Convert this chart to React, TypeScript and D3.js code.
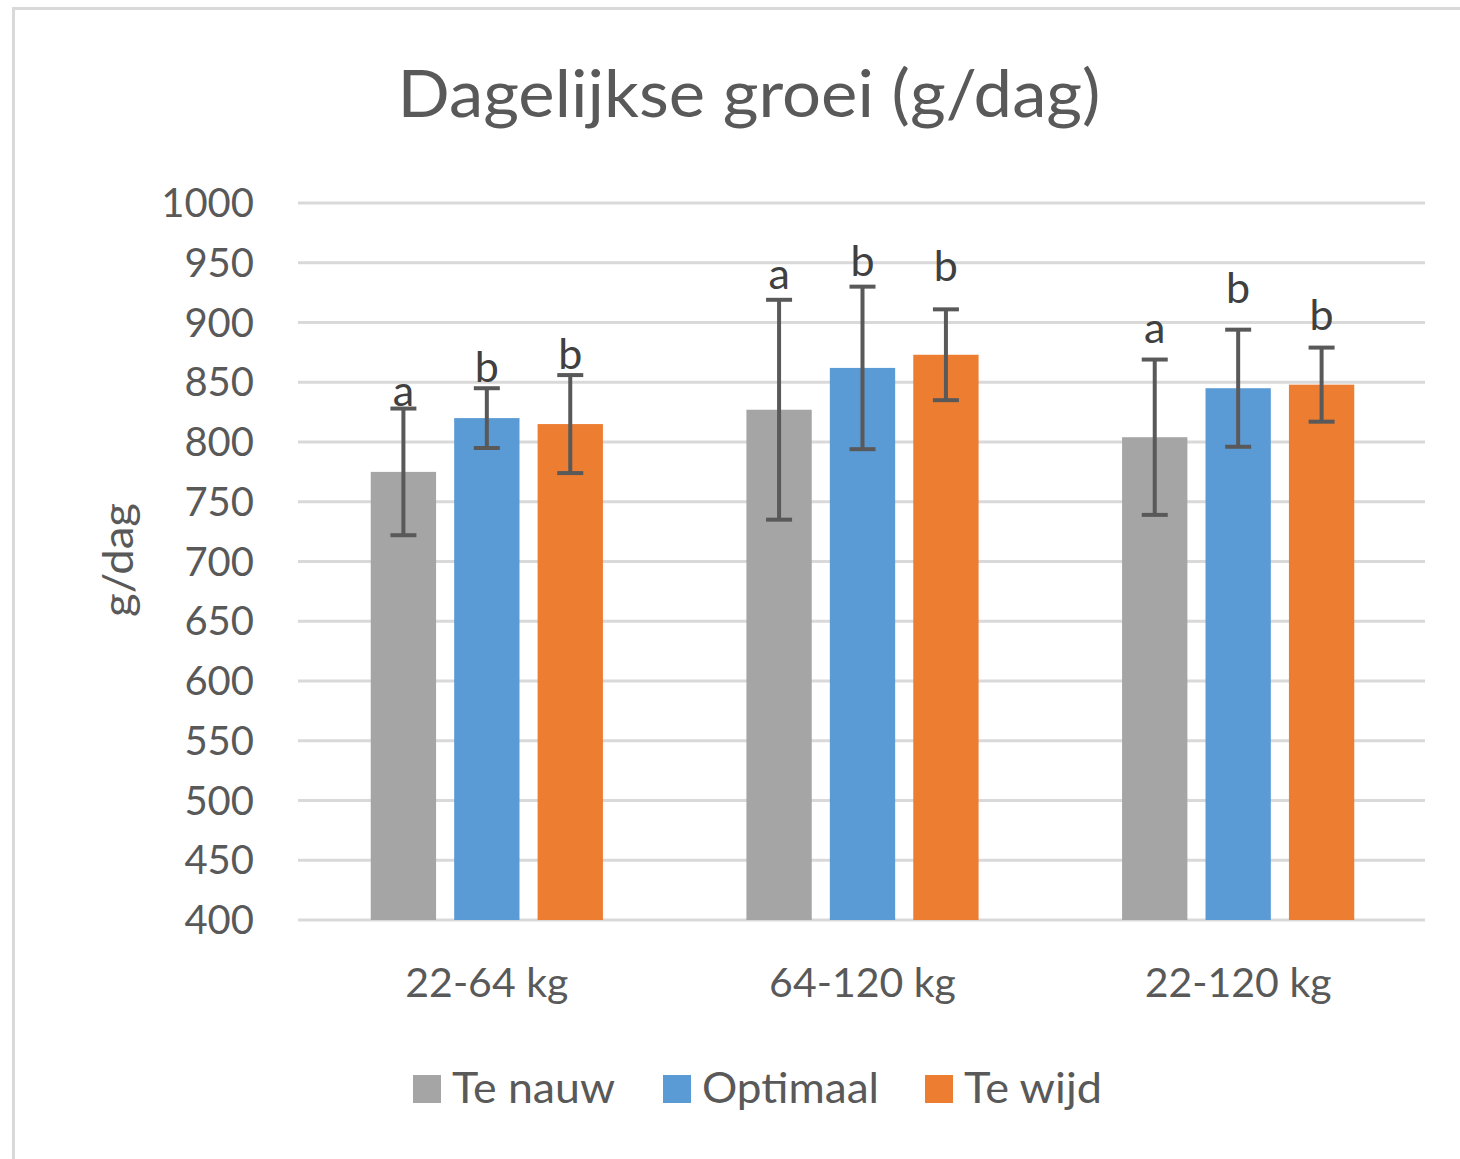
import React, { useEffect, useRef } from "react";
import * as d3 from "d3";

const groups = ["22-64 kg", "64-120 kg", "22-120 kg"];
const seriesNames = ["Te nauw", "Optimaal", "Te wijd"];
const seriesColors = ["#A5A5A5", "#5B9BD5", "#ED7D31"];

const teNauw = [775, 827, 804];
const optimaal = [820, 862, 845];
const teWijd = [815, 873, 848];

const errNauw = [53, 92, 65];
const errOptimaal = [25, 68, 49];
const errWijd = [41, 38, 31];

// significance letters and the value at which their baseline sits
const lettersNauw = ["a", "a", "a"];
const lettersOptimaal = ["b", "b", "b"];
const lettersWijd = ["b", "b", "b"];
const letterAtNauw = [830, 928, 883];
const letterAtOptimaal = [850, 939, 916];
const letterAtWijd = [861, 935, 894];

const yTicks = [400, 450, 500, 550, 600, 650, 700, 750, 800, 850, 900, 950, 1000];

const FONT = "Lato, 'Open Sans', sans-serif";

function App() {
  const ref = useRef<SVGSVGElement>(null);

  useEffect(() => {
    const svg = d3.select(ref.current);
    svg.selectAll("*").remove();

    const width = 1460;
    const height = 1159;
    const margin = { left: 298, right: 35, top: 203, bottom: 239 };

    // chart frame (cut off at right and bottom)
    svg
      .append("path")
      .attr("d", `M13.5,${height + 5}V8.5H${width + 5}`)
      .attr("fill", "none")
      .attr("stroke", "#d9d9d9")
      .attr("stroke-width", 3);

    const series = [
      { name: seriesNames[0], values: teNauw, err: errNauw, letters: lettersNauw, letterAt: letterAtNauw },
      { name: seriesNames[1], values: optimaal, err: errOptimaal, letters: lettersOptimaal, letterAt: letterAtOptimaal },
      { name: seriesNames[2], values: teWijd, err: errWijd, letters: lettersWijd, letterAt: letterAtWijd },
    ];
    const color = d3.scaleOrdinal<string, string>().domain(seriesNames).range(seriesColors);

    const x0 = d3
      .scaleBand()
      .domain(groups)
      .range([margin.left + 1, width - margin.right + 1]);
    const x1 = d3
      .scaleBand()
      .domain(seriesNames)
      .range([0, x0.bandwidth()])
      .paddingInner(0.217)
      .paddingOuter(0.86);
    const y = d3
      .scaleLinear()
      .domain([400, 1000])
      .range([height - margin.bottom, margin.top]);

    // title
    svg
      .append("text")
      .attr("x", 749)
      .attr("y", 117)
      .attr("text-anchor", "middle")
      .attr("font-family", FONT)
      .attr("font-size", "65px")
      .attr("textLength", 703)
      .attr("lengthAdjust", "spacingAndGlyphs")
      .attr("fill", "#595959")
      .text("Dagelijkse groei (g/dag)");

    // gridlines
    svg
      .append("g")
      .selectAll("line")
      .data(yTicks)
      .enter()
      .append("line")
      .attr("x1", margin.left)
      .attr("x2", width - margin.right)
      .attr("y1", (d) => y(d))
      .attr("y2", (d) => y(d))
      .attr("stroke", "#d9d9d9")
      .attr("stroke-width", 3);

    // y tick labels
    svg
      .append("g")
      .selectAll("text")
      .data(yTicks)
      .enter()
      .append("text")
      .attr("x", 254)
      .attr("y", (d) => y(d) + 14)
      .attr("text-anchor", "end")
      .attr("font-family", FONT)
      .attr("font-size", "40px")
      .attr("fill", "#595959")
      .text((d) => d);

    // y axis title
    svg
      .append("text")
      .attr("transform", `translate(133, 560) rotate(-90)`)
      .attr("text-anchor", "middle")
      .attr("font-family", FONT)
      .attr("font-size", "43px")
      .attr("textLength", 114)
      .attr("lengthAdjust", "spacingAndGlyphs")
      .attr("fill", "#595959")
      .text("g/dag");

    // x labels
    svg
      .append("g")
      .selectAll("text")
      .data(groups)
      .enter()
      .append("text")
      .attr("x", (d) => (x0(d) as number) + x0.bandwidth() / 2)
      .attr("y", 997)
      .attr("text-anchor", "middle")
      .attr("font-family", FONT)
      .attr("font-size", "41px")
      .attr("fill", "#595959")
      .text((d) => d);

    // bars
    const groupG = svg
      .append("g")
      .selectAll("g")
      .data(groups)
      .enter()
      .append("g")
      .attr("transform", (d) => `translate(${x0(d)},0)`);

    groupG.each(function (g, gi) {
      const sel = d3.select(this);
      series.forEach((s) => {
        const bx = x1(s.name) as number;
        const cx = bx + x1.bandwidth() / 2;
        const v = s.values[gi];
        const e = s.err[gi];
        sel
          .append("rect")
          .attr("x", bx)
          .attr("width", x1.bandwidth())
          .attr("y", y(v))
          .attr("height", y(400) - y(v))
          .attr("fill", color(s.name));

        const eb = sel.append("g").attr("stroke", "#595959").attr("stroke-width", 4);
        eb.append("line").attr("x1", cx).attr("x2", cx).attr("y1", y(v + e)).attr("y2", y(v - e));
        eb.append("line").attr("x1", cx - 13).attr("x2", cx + 13).attr("y1", y(v + e)).attr("y2", y(v + e));
        eb.append("line").attr("x1", cx - 13).attr("x2", cx + 13).attr("y1", y(v - e)).attr("y2", y(v - e));

        sel
          .append("text")
          .attr("x", cx)
          .attr("y", y(s.letterAt[gi]))
          .attr("text-anchor", "middle")
          .attr("font-family", FONT)
          .attr("font-size", "43px")
          .attr("fill", "#404040")
          .text(s.letters[gi]);
      });
    });

    // legend
    const legendX = [413, 663, 925];
    const legendTextW = [163, 177, 138];
    const legend = svg.append("g");
    seriesNames.forEach((name, i) => {
      const row = legend.append("g").attr("transform", `translate(${legendX[i]}, 1075)`);
      row.append("rect").attr("width", 28).attr("height", 28).attr("fill", color(name));
      row
        .append("text")
        .attr("x", 39)
        .attr("y", 28)
        .attr("font-family", FONT)
        .attr("font-size", "42px")
        .attr("textLength", legendTextW[i])
        .attr("lengthAdjust", "spacingAndGlyphs")
        .attr("fill", "#595959")
        .text(name);
    });
  }, []);

  return (
    <svg
      ref={ref}
      width={1460}
      height={1159}
      style={{ position: "absolute", left: 0, top: 0, background: "#fff" }}
    />
  );
}

export default App;
